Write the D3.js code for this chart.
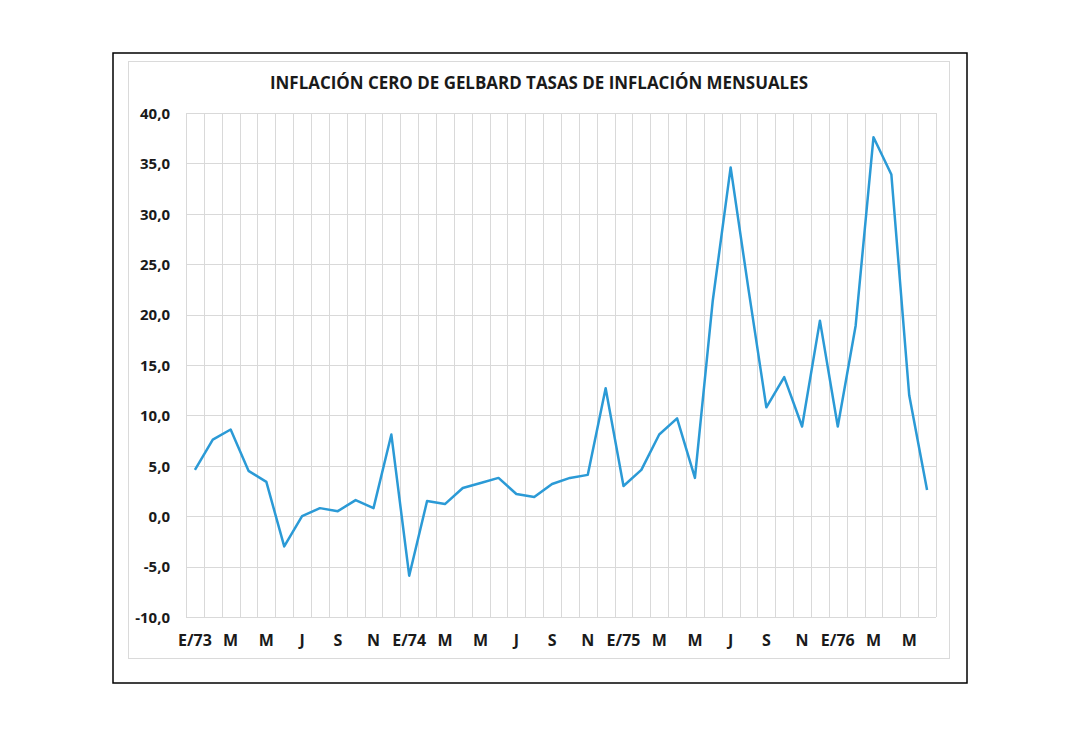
<!DOCTYPE html>
<html><head><meta charset="utf-8">
<script src="https://cdn.jsdelivr.net/npm/d3@7"></script>
<style>body{margin:0;background:#fff;} svg{display:block;}</style>
</head><body>
<svg id="c" width="1080" height="734"></svg>
<script>
const title = "INFLACIÓN CERO DE GELBARD TASAS DE INFLACIÓN MENSUALES";
const months = ["E/73","F","M","A","M","J","J","A","S","O","N","D",
  "E/74","F","M","A","M","J","J","A","S","O","N","D",
  "E/75","F","M","A","M","J","J","A","S","O","N","D",
  "E/76","F","M","A","M","J"];
const values = [4.6,7.6,8.6,4.5,3.4,-3.0,0.0,0.8,0.5,1.6,0.8,8.1,
  -5.9,1.5,1.2,2.8,3.3,3.8,2.2,1.9,3.2,3.8,4.1,12.7,
  3.0,4.6,8.1,9.7,3.8,21.4,34.6,22.5,10.8,13.8,8.9,19.4,
  8.9,18.9,37.6,33.9,12.0,2.6];
const yTicks = [-10,-5,0,5,10,15,20,25,30,35,40];

const svg = d3.select("#c");
const L=186, R=936, T=113, B=617;

svg.append("rect").attr("x",113).attr("y",53).attr("width",854).attr("height",630)
  .attr("fill","#fff").attr("stroke","#000").attr("stroke-width",1.5);
svg.append("rect").attr("x",128.5).attr("y",61.5).attr("width",821).attr("height",597)
  .attr("fill","#fff").attr("stroke","#dadada").attr("stroke-width",1);

const idx = d3.range(months.length);
const x = d3.scaleBand().domain(idx).range([L,R]).padding(0);
const y = d3.scaleLinear().domain([-10,40]).range([B,T]);

const g = svg.append("g");
g.selectAll("line.h").data(yTicks).join("line")
  .attr("x1",L).attr("x2",R).attr("y1",d=>Math.round(y(d))+0.5).attr("y2",d=>Math.round(y(d))+0.5)
  .attr("stroke","#d9d9d9").attr("stroke-width",1);
const bounds = idx.map(i=>x(i)).concat([R]);
g.selectAll("line.v").data(bounds).join("line")
  .attr("x1",d=>Math.round(d)+0.5).attr("x2",d=>Math.round(d)+0.5).attr("y1",T).attr("y2",B)
  .attr("stroke","#d9d9d9").attr("stroke-width",1);

const yAxis = d3.axisLeft(y).tickValues(yTicks).tickSize(0).tickPadding(0)
  .tickFormat(d=>d3.format(".1f")(d).replace(".",",").replace("−","-"));
const ya = svg.append("g").attr("transform",`translate(170,0)`).call(yAxis);
ya.select(".domain").remove();
ya.selectAll("text").attr("font-family","'Open Sans', sans-serif").attr("font-weight","bold")
  .attr("font-size",15).attr("fill","#1a1a1a").attr("dy","0.35em");

const xAxis = d3.axisBottom(x).tickValues(idx.filter(i=>i%2===0)).tickSize(0).tickPadding(0)
  .tickFormat(i=>months[i]);
const xa = svg.append("g").attr("transform",`translate(0,${B+23})`).call(xAxis);
xa.select(".domain").remove();
xa.selectAll("text").attr("font-family","'Open Sans', sans-serif").attr("font-weight","bold")
  .attr("font-size",16).attr("fill","#1a1a1a").attr("dy","0.35em");

const line = d3.line().x((d,i)=>x(i)+x.bandwidth()/2).y(d=>y(d));
svg.append("path").datum(values).attr("d",line).attr("fill","none")
  .attr("stroke","#2b9ad6").attr("stroke-width",2.5).attr("stroke-linejoin","round");

svg.append("text").attr("x",539).attr("y",89).attr("text-anchor","middle")
  .attr("font-family","'Open Sans', sans-serif").attr("font-weight","bold").attr("font-size",17)
  .attr("fill","#1a1a1a").attr("textLength",538).attr("lengthAdjust","spacingAndGlyphs")
  .text(title);
</script>
</body></html>
